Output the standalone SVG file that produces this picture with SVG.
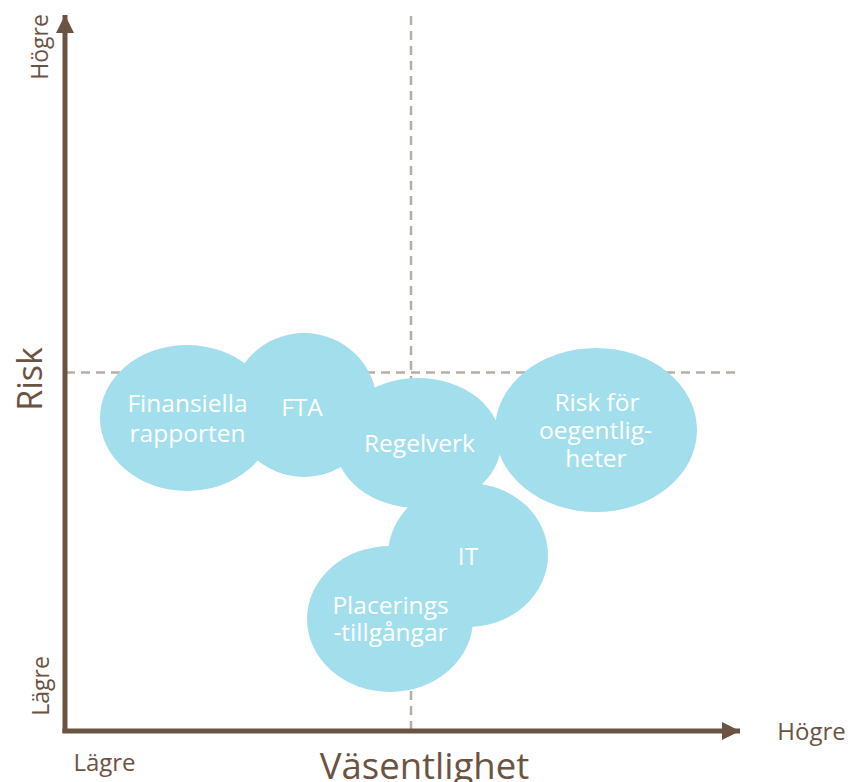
<svg xmlns="http://www.w3.org/2000/svg" width="848" height="782" viewBox="0 0 848 782">
  <defs>
    <style>
      .bubble { fill: #a3deec; }
      .node-text { fill: #ffffff; font-family: "Open Sans", "DejaVu Sans", sans-serif; font-size: 24.5px; text-anchor: middle; }
      .axis-label { fill: #6b5344; font-family: "Open Sans", "DejaVu Sans", sans-serif; text-anchor: middle; }
      .axis { stroke: #6b5344; stroke-width: 5; fill: none; }
      .guide { stroke: #b9ada5; stroke-width: 2.5; stroke-dasharray: 9 6; fill: none; }
    </style>
    <marker id="arrow" viewBox="0 0 10 10" refX="10" refY="5" markerWidth="3.6" markerHeight="3.6" markerUnits="strokeWidth" orient="auto">
      <path d="M0,0 L10,5 L0,10 Z" fill="#6b5344"/>
    </marker>
  </defs>

  <rect width="848" height="782" fill="#ffffff"/>

  <!-- quadrant guides -->
  <g id="guides">
    <line class="guide" x1="66" y1="372.5" x2="740" y2="372.5"/>
    <line class="guide" x1="411" y1="16" x2="411" y2="729"/>
  </g>

  <!-- axes -->
  <g id="connectors">
    <line class="axis" x1="65" y1="733" x2="65" y2="15" marker-end="url(#arrow)"/>
    <line class="axis" x1="62.5" y1="731" x2="740" y2="731" marker-end="url(#arrow)"/>
  </g>

  <!-- axis labels -->
  <g id="axis-labels">
    <text class="axis-label" font-size="23" transform="translate(48,47) rotate(-90)">Högre</text>
    <text class="axis-label" font-size="23" transform="translate(49,686) rotate(-90)">Lägre</text>
    <text class="axis-label" font-size="34" transform="translate(42,379) rotate(-90)">Risk</text>
    <text class="axis-label" font-size="24" x="104.5" y="771">Lägre</text>
    <text class="axis-label" font-size="24" x="811.5" y="740">Högre</text>
    <text class="axis-label" font-size="36.5" x="424.5" y="779">Väsentlighet</text>
  </g>

  <!-- risk areas -->
  <g id="finansiella-rapporten">
    <ellipse class="bubble" cx="187" cy="418" rx="87" ry="73"/>
  </g>
  <g id="fta">
    <ellipse class="bubble" cx="304" cy="405" rx="73" ry="72"/>
  </g>
  <g id="regelverk">
    <ellipse class="bubble" cx="418" cy="443" rx="83" ry="65"/>
  </g>
  <g id="it">
    <ellipse class="bubble" cx="468" cy="555" rx="80" ry="72"/>
  </g>
  <g id="placeringstillgangar">
    <ellipse class="bubble" cx="390" cy="619" rx="83" ry="73"/>
  </g>
  <g id="risk-for-oegentligheter">
    <ellipse class="bubble" cx="596" cy="430" rx="101" ry="82"/>
  </g>

  <!-- labels above all bubbles -->
  <g id="labels">
    <text class="node-text" x="187.5" y="412">Finansiella</text>
    <text class="node-text" x="187.5" y="442">rapporten</text>
    <text class="node-text" x="302" y="416">FTA</text>
    <text class="node-text" x="419.5" y="452">Regelverk</text>
    <text class="node-text" x="597" y="411">Risk för</text>
    <text class="node-text" x="595.5" y="439">oegentlig-</text>
    <text class="node-text" x="596" y="467">heter</text>
    <text class="node-text" x="468" y="565">IT</text>
    <text class="node-text" x="390.5" y="614">Placerings</text>
    <text class="node-text" x="390.5" y="641">-tillgångar</text>
  </g>
</svg>
